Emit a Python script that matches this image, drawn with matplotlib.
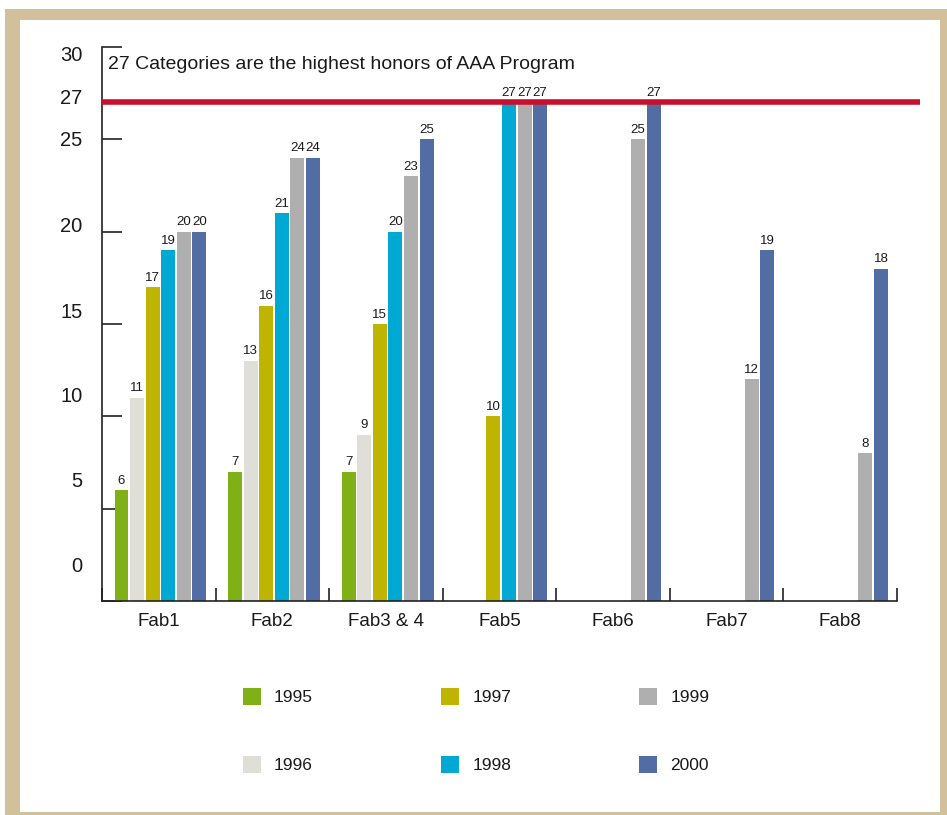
import numpy as np
import matplotlib.pyplot as plt
from matplotlib.patches import Rectangle, Patch

# data
fabs = ['Fab1', 'Fab2', 'Fab3 & 4', 'Fab5', 'Fab6', 'Fab7', 'Fab8']
years = ['1995', '1996', '1997', '1998', '1999', '2000']
v1995 = [6, 7, 7, None, None, None, None]
v1996 = [11, 13, 9, None, None, None, None]
v1997 = [17, 16, 15, 10, None, None, None]
v1998 = [19, 21, 20, 27, None, None, None]
v1999 = [20, 24, 23, 27, 25, 12, 8]
v2000 = [20, 24, 25, 27, 27, 19, 18]
series = [v1995, v1996, v1997, v1998, v1999, v2000]
colors = ['#7fb117', '#dfdfd8', '#bfb500', '#00a8d4', '#afafaf', '#526da3']

target = 27
target_text = '27 Categories are the highest honors of AAA Program'
ylabels = ['30', '27', '25', '20', '15', '10', '5', '0']
ylabel_pos = [29.65, 27.3, 25.05, 20.4, 15.75, 11.2, 6.6, 1.95]  # placed as in the original

plt.rcParams['font.family'] = ['Liberation Sans', 'DejaVu Sans']

fig = plt.figure(figsize=(9.47, 8.15), dpi=100)
W, H = 947, 815

# tan frame
fig.patches.append(Rectangle((5 / W, 0), 1, 1 - 9 / H, transform=fig.transFigure,
                             facecolor='#d2bf9c', edgecolor='none', zorder=-2))
fig.patches.append(Rectangle((20 / W, 3 / H), 920 / W, (812 - 20) / H,
                             transform=fig.transFigure, facecolor='white',
                             edgecolor='none', zorder=-1))

ax = fig.add_axes([102 / W, 1 - 601 / H, 795 / W, 554 / H])
ax.patch.set_alpha(0)

x = np.arange(len(fabs))
pitch = 0.1373
width = 0.123
for i, (vals, c) in enumerate(zip(series, colors)):
    xs = [x[j] + (i - 2.5) * pitch + 0.015 for j in range(len(vals)) if vals[j] is not None]
    hs = [v for v in vals if v is not None]
    ax.bar(xs, hs, width=width, color=c, label=years[i], zorder=2)
    for xx, hh in zip(xs, hs):
        ax.annotate(str(hh), (xx, hh), xytext=(0, 2.5), textcoords='offset points',
                    ha='center', va='bottom', fontsize=9.5, color='#1a1a1a',
                    family=['Liberation Sans Narrow', 'Liberation Sans'], zorder=4)

# target line
ax.plot([-0.5, 6.70], [target, target], color='#c8102e', lw=4, zorder=3,
        clip_on=False, solid_capstyle='butt')
ax.text(-0.45, 29.05, target_text, fontsize=14, va='center', ha='left', color='#1a1a1a')

ax.set_xlim(-0.5, 6.5)
ax.set_ylim(0, 30)
for s in ['top', 'right']:
    ax.spines[s].set_visible(False)
for s in ['left', 'bottom']:
    ax.spines[s].set_linewidth(1.2)
    ax.spines[s].set_color('#222222')

ax.set_xticks(x)
ax.set_xticklabels(fabs, fontsize=13.5, color='#1a1a1a')
ax.set_xticks(np.arange(-0.5, 7, 1), minor=True)
ax.tick_params(axis='x', which='major', length=0, pad=9)
ax.tick_params(axis='x', which='minor', direction='in', length=9.5, width=1.2, color='#222222')

ax.set_yticks(ylabel_pos)
ax.set_yticklabels(ylabels, fontsize=14.5, color='#1a1a1a')
ax.set_yticks(np.arange(0, 31, 5), minor=True)
ax.tick_params(axis='y', which='major', length=0, pad=14)
ax.tick_params(axis='y', which='minor', direction='in', length=14.5, width=1.2, color='#222222')

handles = [Patch(facecolor=c, edgecolor='none') for c in colors]
leg = fig.legend(handles, years, loc='upper left', bbox_to_anchor=(243 / W, 1 - 688 / H),
                 ncol=3, frameon=False, fontsize=12.5, handlelength=1.04, handleheight=1.09,
                 handletextpad=0.75, columnspacing=7.38, labelspacing=2.93,
                 borderpad=0, borderaxespad=0)
for t in leg.get_texts():
    t.set_color('#1a1a1a')

fig.savefig('out.png', dpi=100)
